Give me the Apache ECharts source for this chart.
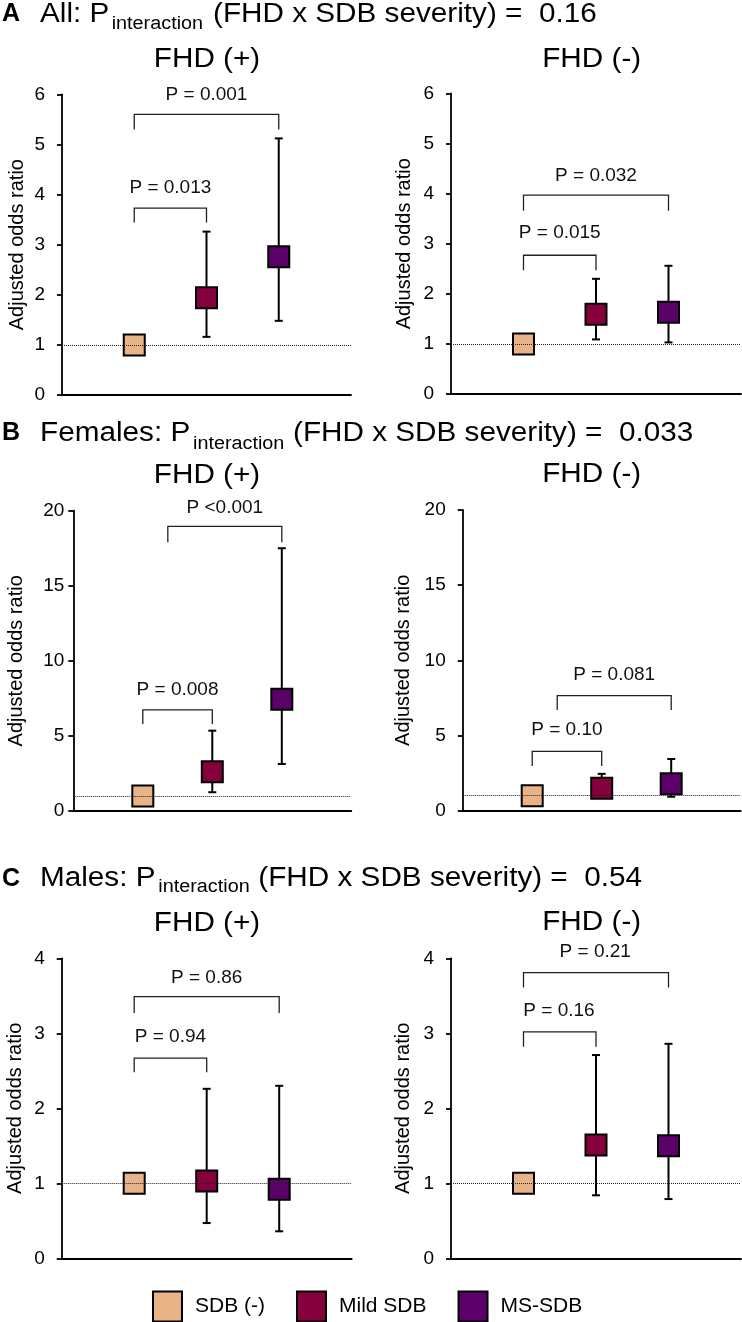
<!DOCTYPE html>
<html>
<head>
<meta charset="utf-8">
<script src="https://cdn.jsdelivr.net/npm/echarts@6/dist/echarts.min.js"></script>
<style>
html,body{margin:0;padding:0;background:#fff;}
#chart{width:742px;height:1322px;}
</style>
</head>
<body>
<div id="chart"></div>
<script>
// ---------- data ----------
const xPos = [1, 2, 3];
const groupNames = ['SDB (-)', 'Mild SDB', 'MS-SDB'];
const groupColors = ['#e8b386', '#86003e', '#5a0068'];

// A: All, FHD (+)
const aPosOR = [1, 1.94, 2.76];
const aPosLo = [1, 1.16, 1.48];
const aPosHi = [1, 3.26, 5.12];
const aPosBrX = [[1, 2], [1, 3]];
const aPosBrY = [[3.73, 3.44], [5.6, 5.3]];
const aPosP = ['P = 0.013', 'P = 0.001'];
const aPosPAt = [[1.5, 4.14], [2, 6.0]];
// A: All, FHD (-)
const aNegOR = [1, 1.59, 1.63];
const aNegLo = [1, 1.09, 1.03];
const aNegHi = [1, 2.30, 2.56];
const aNegBrX = [[1, 2], [1, 3]];
const aNegBrY = [[2.77, 2.47], [3.97, 3.66]];
const aNegP = ['P = 0.015', 'P = 0.032'];
const aNegPAt = [[1.5, 3.21], [2, 4.36]];
const aYTicks = [0, 1, 2, 3, 4, 5, 6];

// B: Females, FHD (+)
const bPosOR = [1, 2.62, 7.44];
const bPosLo = [1, 1.25, 3.13];
const bPosHi = [1, 5.35, 17.5];
const bPosBrX = [[1, 2], [1.36, 3]];
const bPosBrY = [[6.73, 5.8], [18.95, 17.9]];
const bPosP = ['P = 0.008', 'P <0.001'];
const bPosPAt = [[1.5, 8.1], [2.18, 20.2]];
// B: Females, FHD (-)
const bNegOR = [1, 1.5, 1.8];
const bNegLo = [1, 1.0, 0.93];
const bNegHi = [1, 2.45, 3.44];
const bNegBrX = [[1, 2], [1.36, 3]];
const bNegBrY = [[3.94, 2.98], [7.65, 6.7]];
const bNegP = ['P = 0.10', 'P = 0.081'];
const bNegPAt = [[1.5, 5.38], [2.18, 9.05]];
const bYTicks = [0, 5, 10, 15, 20];

// C: Males, FHD (+)
const cPosOR = [1, 1.03, 0.92];
const cPosLo = [1, 0.47, 0.36];
const cPosHi = [1, 2.26, 2.30];
const cPosBrX = [[1, 2], [1, 3]];
const cPosBrY = [[2.67, 2.48], [3.49, 3.27]];
const cPosP = ['P = 0.94', 'P = 0.86'];
const cPosPAt = [[1.5, 2.95], [2, 3.74]];
// C: Males, FHD (-)
const cNegOR = [1, 1.51, 1.50];
const cNegLo = [1, 0.84, 0.79];
const cNegHi = [1, 2.71, 2.86];
const cNegBrX = [[1, 2], [1, 3]];
const cNegBrY = [[3.02, 2.82], [3.81, 3.61]];
const cNegP = ['P = 0.16', 'P = 0.21'];
const cNegPAt = [[1.49, 3.30], [1.99, 4.09]];
const cYTicks = [0, 1, 2, 3, 4];

const panelTitles = [
  ['A', 'All: P', 'interaction', '(FHD x SDB severity) =  0.16'],
  ['B', 'Females: P', 'interaction', '(FHD x SDB severity) =  0.033'],
  ['C', 'Males: P', 'interaction', '(FHD x SDB severity) =  0.54']
];
const subTitles = ['FHD (+)', 'FHD (-)'];
const yName = 'Adjusted odds ratio';

// ---------- layout ----------
const FONT = '"Liberation Sans", Arial, Helvetica, sans-serif';
const panels = [
  {grid:{left:62,   top:94.3,  width:289, height:300.7}, ticks:aYTicks, or:aPosOR, lo:aPosLo, hi:aPosHi, brX:aPosBrX, brY:aPosBrY, p:aPosP, pAt:aPosPAt, margin:17, gap:35},
  {grid:{left:451,  top:93.5,  width:290, height:300.5}, ticks:aYTicks, or:aNegOR, lo:aNegLo, hi:aNegHi, brX:aNegBrX, brY:aNegBrY, p:aNegP, pAt:aNegPAt, margin:17, gap:37},
  {grid:{left:73.3, top:510.7, width:278, height:300.3}, ticks:bYTicks, or:bPosOR, lo:bPosLo, hi:bPosHi, brX:bPosBrX, brY:bPosBrY, p:bPosP, pAt:bPosPAt, margin:9, gap:47},
  {grid:{left:462.7,top:510,   width:278, height:300.7}, ticks:bYTicks, or:bNegOR, lo:bNegLo, hi:bNegHi, brX:bNegBrX, brY:bNegBrY, p:bNegP, pAt:bNegPAt, margin:17, gap:49},
  {grid:{left:61.7, top:958.3, width:290, height:300}, ticks:cYTicks, or:cPosOR, lo:cPosLo, hi:cPosHi, brX:cPosBrX, brY:cPosBrY, p:cPosP, pAt:cPosPAt, margin:17, gap:36},
  {grid:{left:451,  top:958.3, width:290, height:300}, ticks:cYTicks, or:cNegOR, lo:cNegLo, hi:cNegHi, brX:cNegBrX, brY:cNegBrY, p:cNegP, pAt:cNegPAt, margin:17, gap:38}
];
const titleLayout = [
  {letterY:14.5, mainX:40, subX:111.7, subY:23.8, restX:213},
  {letterY:433.3, mainX:40, subX:193, subY:443.8, restX:293},
  {letterY:878.7, mainX:40, subX:158.3, subY:887.5, restX:258.3}
];
const subLayout = [[207,60],[591.7,60],[207,476],[591.7,475],[207,924],[591.7,923]];

const axisLineStyle = {color:'#000', width:1.8};

const grids = panels.map(p => Object.assign({containLabel:false}, p.grid));
const xAxes = panels.map((p, i) => ({
  type:'value', gridIndex:i, min:0, max:4,
  axisLine:{show:true, onZero:false, lineStyle:axisLineStyle},
  axisTick:{show:false}, axisLabel:{show:false}, splitLine:{show:false}
}));
const yAxes = panels.map((p, i) => ({
  type:'value', gridIndex:i,
  min:p.ticks[0], max:p.ticks[p.ticks.length-1], interval:p.ticks[1]-p.ticks[0],
  name:yName, nameLocation:'middle', nameGap:p.gap, nameRotate:90, nameMoveOverlap:false,
  nameTextStyle:{fontSize:20, color:'#000', fontFamily:FONT},
  axisLine:{show:true, onZero:false, lineStyle:axisLineStyle},
  axisTick:{show:true, inside:false, length:5, lineStyle:axisLineStyle},
  axisLabel:{fontSize:19, color:'#000', margin:p.margin, fontFamily:FONT},
  splitLine:{show:false}
}));

const series = [];
panels.forEach((p, i) => {
  // error bars
  series.push({
    type:'custom', xAxisIndex:i, yAxisIndex:i, z:2, clip:false,
    data: xPos.map((x, g) => [x, p.lo[g], p.hi[g]]),
    encode:{x:0, y:[1,2]},
    renderItem: function (params, api) {
      const x = api.value(0), lo = api.value(1), hi = api.value(2);
      if (lo === hi) return null;
      const t = api.coord([x, hi]), b = api.coord([x, lo]);
      const st = {stroke:'#000', lineWidth:2};
      return {type:'group', children:[
        {type:'line', shape:{x1:t[0], y1:t[1], x2:b[0], y2:b[1]}, style:st},
        {type:'line', shape:{x1:t[0]-4, y1:t[1], x2:t[0]+4, y2:t[1]}, style:st},
        {type:'line', shape:{x1:b[0]-4, y1:b[1], x2:b[0]+4, y2:b[1]}, style:st}
      ]};
    },
    markLine:{
      silent:true, symbol:'none', label:{show:false}, z:10,
      lineStyle:{type:'dotted', color:'#222', width:1},
      emphasis:{disabled:true},
      data:[{yAxis:1}]
    }
  });
  // brackets + P labels
  series.push({
    type:'custom', xAxisIndex:i, yAxisIndex:i, z:2, clip:false,
    data: p.brX.map((bx, k) => [bx[0], bx[1], p.brY[k][0], p.brY[k][1], p.pAt[k][0], p.pAt[k][1], k]),
    encode:{x:[0,1,4], y:[2,3,5]},
    renderItem: function (params, api) {
      const k = api.value(6);
      const a = api.coord([api.value(0), api.value(3)]);
      const b = api.coord([api.value(0), api.value(2)]);
      const c = api.coord([api.value(1), api.value(2)]);
      const d = api.coord([api.value(1), api.value(3)]);
      const tp = api.coord([api.value(4), api.value(5)]);
      return {type:'group', children:[
        {type:'polyline', shape:{points:[a,b,c,d]}, style:{stroke:'#222', lineWidth:1.3, fill:null}},
        {type:'text', x:tp[0], y:tp[1], style:{text:p.p[k], fill:'#111', font:'19px ' + FONT,
          align:'center', verticalAlign:'middle', textAlign:'center', textVerticalAlign:'middle'}}
      ]};
    }
  });
  // markers
  xPos.forEach((x, g) => {
    series.push({
      type:'scatter', name:groupNames[g], xAxisIndex:i, yAxisIndex:i, z:4,
      symbol:'rect', symbolSize:21,
      itemStyle:{color:groupColors[g], borderColor:'#000', borderWidth:2, opacity:1},
      emphasis:{disabled:true},
      data:[[x, p.or[g]]]
    });
  });
});

const graphics = [];
panelTitles.forEach((t, i) => {
  const L = titleLayout[i];
  graphics.push({type:'text', x:2, y:L.letterY, style:{text:t[0], font:'bold 25px ' + FONT, fill:'#000', verticalAlign:'middle', textVerticalAlign:'middle'}});
  graphics.push({type:'text', x:L.mainX, y:L.letterY, scaleX:1.1, style:{text:t[1], font:'27px ' + FONT, fill:'#000', verticalAlign:'middle', textVerticalAlign:'middle'}});
  graphics.push({type:'text', x:L.subX, y:L.subY, scaleX:1.1, style:{text:t[2], font:'18px ' + FONT, fill:'#000', verticalAlign:'middle', textVerticalAlign:'middle'}});
  graphics.push({type:'text', x:L.restX, y:L.letterY, scaleX:1.1, style:{text:t[3], font:'27px ' + FONT, fill:'#000', verticalAlign:'middle', textVerticalAlign:'middle'}});
});
subLayout.forEach((pos, i) => {
  graphics.push({type:'text', x:pos[0], y:pos[1], scaleX:1.1, style:{text:subTitles[i % 2], font:'27px ' + FONT, fill:'#000',
    align:'center', textAlign:'center', verticalAlign:'middle', textVerticalAlign:'middle'}});
});

const chart = echarts.init(document.getElementById('chart'), null, {renderer:'canvas'});
chart.setOption({
  animation:false,
  backgroundColor:'#fff',
  textStyle:{fontFamily:FONT},
  grid:grids, xAxis:xAxes, yAxis:yAxes, series:series,
  legend:{
    data:groupNames, left:152, top:1290.5, padding:0,
    itemWidth:29, itemHeight:30, itemGap:31, icon:'rect', selectedMode:false,
    textStyle:{fontSize:21, color:'#000', fontFamily:FONT, padding:[0,0,0,8]}
  },
  graphic:graphics
});
</script>
</body>
</html>
